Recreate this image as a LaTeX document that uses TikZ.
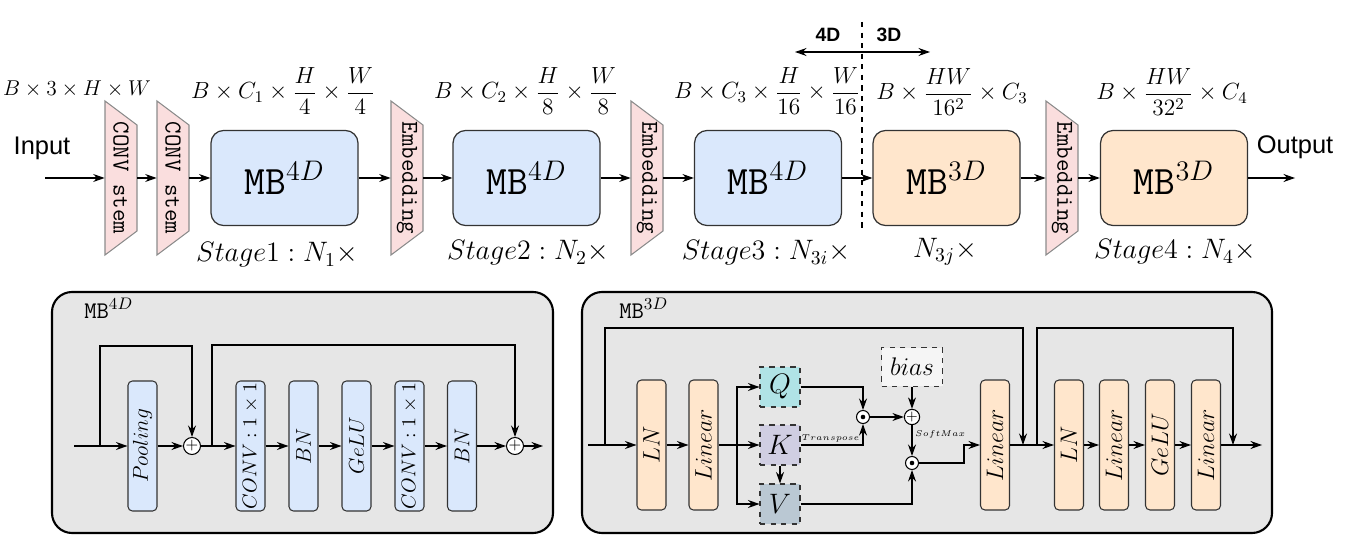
\RequirePackage{fix-cm}
\documentclass[tikz,border=0pt]{standalone}
\usepackage{amsmath,amssymb}
\usepackage{fontspec}
\newfontfamily\arialfont{Liberation Sans}
\usepackage{tikz}
\usetikzlibrary{arrows.meta,calc,positioning}
\definecolor{mbblue}{HTML}{DAE8FC}
\definecolor{mborange}{HTML}{FFE6CC}
\definecolor{trpink}{RGB}{250,222,222}
\definecolor{panelgray}{HTML}{E6E6E6}
\definecolor{qcyan}{HTML}{B0E3E6}
\definecolor{kpurple}{HTML}{D0CEE2}
\definecolor{vslate}{HTML}{BAC8D3}
\definecolor{biasgray}{HTML}{F5F5F5}
\tikzset{
  arr/.style={-{Stealth[length=2.3mm,width=1.6mm]},line width=.65pt},
  mbbox/.style={draw=black!80,line width=.7pt,rounded corners=.25cm,minimum width=2.94cm,minimum height=1.9cm,font=\fontsize{23}{26}\selectfont},
  trapline/.style={draw=black!45,fill=trpink,line width=.6pt},
  traptext/.style={inner sep=0pt,minimum width=.64cm,minimum height=3.08cm,font=\fontsize{13.8}{16}\selectfont\ttfamily},
  panel/.style={draw=black,fill=panelgray,line width=1.2pt,rounded corners=.4cm},
  layer/.style={draw=black!80,line width=.6pt,rounded corners=2.5pt,minimum width=.58cm,minimum height=2.6cm,inner sep=0pt},
  plus/.style={circle,draw,fill=white,line width=.6pt,minimum size=.34cm,inner sep=0pt,font=\fontsize{9}{9}\selectfont},
  dot/.style={circle,draw,fill=white,line width=.6pt,minimum size=.26cm,inner sep=0pt,path picture={\fill[black] (path picture bounding box.center) circle (1.3pt);}},
  qkv/.style={draw=black!80,dashed,line width=.6pt,minimum size=.8cm,inner sep=0pt,font=\fontsize{16}{18}\selectfont},
  tinylab/.style={font=\fontsize{4.8}{6}\selectfont,inner sep=1.5pt},
  dimlab/.style={font=\fontsize{13.3}{15}\selectfont},
  stagelab/.style={font=\fontsize{16}{18}\selectfont}
}
\begin{document}
\begin{tikzpicture}[x=0.02cm,y=-0.02cm,font=\fontsize{12.2}{14}\selectfont]
  \useasboundingbox (0,0) rectangle (1345,540);
  % top row
  \foreach \n/\x/\txt in {stem1/105/CONV stem,stem2/157/CONV stem,emb1/391/Embedding,emb2/631/Embedding,emb3/1046/Embedding}{
    \draw[trapline] (\x,101) -- (\x+32,125) -- (\x+32,231) -- (\x,255) -- cycle;
    \node[traptext] (\n) at (\x+16,178) {\rotatebox{-90}{\txt}};
  }
  \node[mbbox,fill=mbblue] (mb1) at (284.5,178) {$\texttt{MB}^{4D}$};
  \node[mbbox,fill=mbblue] (mb2) at (526.5,178) {$\texttt{MB}^{4D}$};
  \node[mbbox,fill=mbblue] (mb3) at (768,178) {$\texttt{MB}^{4D}$};
  \node[mbbox,fill=mborange] (mb4) at (946.5,178) {$\texttt{MB}^{3D}$};
  \node[mbbox,fill=mborange] (mb5) at (1174,178) {$\texttt{MB}^{3D}$};
  \node[font=\arialfont\fontsize{14.5}{17}\selectfont] (inlab) at (42,148) {Input};
  \node[font=\arialfont\fontsize{14.5}{17}\selectfont] (outlab) at (1295,147) {Output};
  \coordinate (inp) at (45,178);
  \coordinate (outp) at (1295,178);
  \foreach \a/\b in {inp/stem1,stem1/stem2,stem2/mb1,mb1/emb1,emb1/mb2,mb2/emb2,emb2/mb3,mb3/mb4,mb4/emb3,emb3/mb5,mb5/outp}
    \draw[arr] (\a) -- (\b);
  % 4D / 3D split
  \draw[dashed,line width=.6pt] (862,22) -- (862,230);
  \coordinate (left4d) at (795,52);
  \coordinate (right3d) at (930,52);
  \draw[{Stealth[length=2.3mm,width=1.6mm]}-{Stealth[length=2.3mm,width=1.6mm]},line width=.65pt] (left4d) -- (right3d);
  \node[font=\arialfont\bfseries\fontsize{11}{13}\selectfont] (t4d) at (828,35) {4D};
  \node[font=\arialfont\bfseries\fontsize{11}{13}\selectfont] (t3d) at (889,35) {3D};
  % shapes
  \node (dim0) at (77,89) {$B\times3\times H\times W$};
  \node[dimlab] (dim1) at (283,91) {$B\times C_1\times\dfrac{H}{4}\times\dfrac{W}{4}$};
  \node[dimlab] (dim2) at (526,91) {$B\times C_2\times\dfrac{H}{8}\times\dfrac{W}{8}$};
  \node[dimlab] (dim3) at (767,91) {$B\times C_3\times\dfrac{H}{16}\times\dfrac{W}{16}$};
  \node[dimlab] (dim4) at (952,92) {$B\times\dfrac{HW}{16^2}\times C_3$};
  \node[dimlab] (dim5) at (1172,92) {$B\times\dfrac{HW}{32^2}\times C_4$};
  % stages
  \node[stagelab] (st1) at (277,255) {$Stage1:N_1\times$};
  \node[stagelab] (st2) at (528,253) {$Stage2:N_2\times$};
  \node[stagelab] (st3) at (766,253) {$Stage3:N_{3i}\times$};
  \node[stagelab] (st3j) at (945,252) {$N_{3j}\times$};
  \node[stagelab] (st4) at (1175,252) {$Stage4:N_4\times$};

  % MB 4D block
  \draw[panel] (52,292) rectangle (553,533);
  \node[anchor=west,inner sep=0pt,font=\fontsize{13.6}{16}\selectfont] (lab4) at (84,308) {$\texttt{MB}^{4D}$};
  \coordinate (a0) at (74,446);
  \coordinate (s1) at (100,446);
  \coordinate (s2) at (212,446);
  \coordinate (a1) at (543,446);
  \node[layer,fill=mbblue] (pool) at (142.5,446) {\rotatebox{90}{$Pooling$}};
  \node[plus] (p1) at (192,446) {$+$};
  \node[layer,fill=mbblue,font=\fontsize{11.3}{13}\selectfont] (conv1) at (250.5,446) {\rotatebox{90}{$CONV:1\times1$}};
  \node[layer,fill=mbblue] (bn1) at (303.5,446) {\rotatebox{90}{$BN$}};
  \node[layer,fill=mbblue] (gelu1) at (356.5,446) {\rotatebox{90}{$GeLU$}};
  \node[layer,fill=mbblue,font=\fontsize{11.3}{13}\selectfont] (conv2) at (409.5,446) {\rotatebox{90}{$CONV:1\times1$}};
  \node[layer,fill=mbblue] (bn2) at (462,446) {\rotatebox{90}{$BN$}};
  \node[plus] (p2) at (515,446) {$+$};
  \foreach \a/\b in {a0/pool,pool/p1,p1/conv1,conv1/bn1,bn1/gelu1,gelu1/conv2,conv2/bn2,bn2/p2,p2/a1}
    \draw[arr] (\a) -- (\b);
  \draw[arr] (s1) -- ++(0,-100) -| (p1);
  \draw[arr] (s2) -- ++(0,-101) -| (p2);

  % MB 3D block
  \draw[panel] (582,292) rectangle (1272,533);
  \node[anchor=west,inner sep=0pt,font=\fontsize{13.6}{16}\selectfont] (lab3) at (619,308) {$\texttt{MB}^{3D}$};
  \coordinate (b0) at (588,445);
  \coordinate (s3) at (605,445);
  \coordinate (qk) at (737,445);
  \coordinate (j1) at (1023,445);
  \coordinate (s4) at (1037,445);
  \coordinate (j2) at (1233,445);
  \coordinate (b1) at (1262,445);
  \node[layer,fill=mborange,font=\fontsize{13.6}{16}\selectfont] (ln1) at (651.5,445) {\rotatebox{90}{$LN$}};
  \node[layer,fill=mborange,font=\fontsize{13.6}{16}\selectfont] (lin1) at (703.5,445) {\rotatebox{90}{$Linear$}};
  \node[qkv,fill=qcyan] (q) at (780,387) {$Q$};
  \node[qkv,fill=kpurple] (k) at (780,445) {$K$};
  \node[qkv,fill=vslate] (v) at (780,504) {$V$};
  \node[dot] (d1) at (863,417) {};
  \node[draw=black!80,dashed,line width=.6pt,fill=biasgray,minimum width=1.22cm,minimum height=.78cm,font=\fontsize{14.5}{16}\selectfont] (bias) at (912,367) {$bias$};
  \node[plus,minimum size=.26cm,font=\fontsize{8}{8}\selectfont] (p3) at (912,417) {$+$};
  \node[dot] (d2) at (912,463) {};
  \node[layer,fill=mborange,font=\fontsize{13.6}{16}\selectfont] (lin2) at (995,445) {\rotatebox{90}{$Linear$}};
  \node[layer,fill=mborange,font=\fontsize{13.6}{16}\selectfont] (ln2) at (1069,445) {\rotatebox{90}{$LN$}};
  \node[layer,fill=mborange,font=\fontsize{13.6}{16}\selectfont] (lin3) at (1114,445) {\rotatebox{90}{$Linear$}};
  \node[layer,fill=mborange,font=\fontsize{13.6}{16}\selectfont] (gelu2) at (1160,445) {\rotatebox{90}{$GeLU$}};
  \node[layer,fill=mborange,font=\fontsize{13.6}{16}\selectfont] (lin4) at (1206,445) {\rotatebox{90}{$Linear$}};
  \draw[arr] (b0) -- (ln1);
  \draw[arr] (ln1) -- (lin1);
  \draw[arr] (lin1) -- (k);
  \draw[arr] (qk) |- (q);
  \draw[arr] (qk) |- (v);
  \draw[arr] (k) -- (v);
  \draw[arr] (q) -| (d1);
  \draw[arr] (k) -| node[pos=.24,above,tinylab] {$Transpose$} (d1);
  \draw[arr] (d1) -- (p3);
  \draw[arr] (bias) -- (p3);
  \draw[arr] (p3) -- node[pos=.3,right,tinylab] {$SoftMax$} (d2);
  \draw[arr] (v) -| (d2);
  \draw[arr] (d2) -- ++(52,0) |- (lin2);
  \foreach \a/\b in {lin2/ln2,ln2/lin3,lin3/gelu2,gelu2/lin4,lin4/b1}
    \draw[arr] (\a) -- (\b);
  \draw[arr] (s3) -- ++(0,-117) -| (j1);
  \draw[arr] (s4) -- ++(0,-117) -| (j2);
\end{tikzpicture}
\end{document}
